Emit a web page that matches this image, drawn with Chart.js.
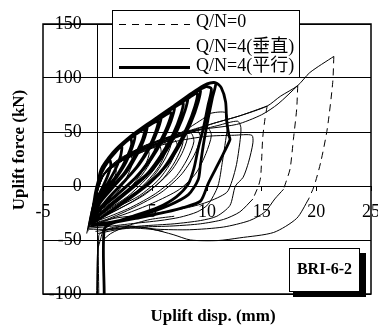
<!DOCTYPE html>
<html><head><meta charset="utf-8">
<script src="https://cdn.jsdelivr.net/npm/chart.js@4"></script>
<style>html,body{margin:0;padding:0;background:#fff;}canvas{display:block;}</style>
</head><body>
<canvas id="c" width="378" height="329"></canvas>
<script>
// ---- data ----
const xTicks = [-5, 0, 5, 10, 15, 20, 25];
const yTicks = [-100, -50, 0, 50, 100, 150];
const legendLabels = ['Q/N=0', 'Q/N=4(垂直)', 'Q/N=4(平行)'];
const specimenLabel = 'BRI-6-2';
const xTitle = 'Uplift disp. (mm)';
const yTitle = 'Uplift force (kN)';

// Q/N=0 : dashed unloading branches
const qn0Loops = [
  [[15.5,74],[15.3,62],[15.1,45],[15,25],[14.9,8],[14.7,0],[14.2,-12]],
  [[18.3,93],[18.2,71],[17.9,43],[17.6,16],[17.2,3],[17,-3]],
  [[21.6,120],[21.5,96],[21,53],[20.4,22],[19.8,0],[19.3,-12]]
];

// Q/N=4 (垂直) : thin loops
const qn4VerticalLoops = [
  [[-0.4,-20],[-0.2,-8],[0.2,5],[0.8,13],[1.5,18],[1.7,14],[1.4,4],[0.9,-6],[0.3,-14],[-0.4,-20]],
  [[-0.5,-25],[-0.2,-10],[0.3,6],[1.2,17],[2.2,24],[3,28],[3.2,22],[2.7,9],[2,-3],[1,-14],[0,-22],[-0.5,-25]],
  [[-0.5,-27],[-0.2,-10],[0.4,9],[1.8,24],[3.5,33],[5,38],[5.2,32],[4.7,20],[3.8,7],[2.5,-6],[0.9,-18],[-0.5,-27]],
  [[-0.6,-28],[-0.3,-12],[0.3,7],[1.5,20],[3,29],[4.5,35],[4.7,29],[4.1,14],[3.2,1],[2,-11],[0.7,-21],[-0.6,-28]],
  [[-0.6,-29],[-0.3,-11],[0.4,8],[2,22],[4,31],[5.6,38],[5.8,31],[5.2,16],[4.1,3],[2.7,-10],[1,-21],[-0.6,-29]],
  [[-0.6,-30],[-0.3,-12],[0.4,8],[2,23],[4,33],[6,41],[6.3,34],[5.6,18],[4.5,4],[3,-10],[1.2,-22],[-0.6,-30]],
  [[-0.6,-31],[-0.3,-12],[0.5,10],[2.3,26],[4.5,37],[6.5,45],[6.7,38],[6.1,24],[5.1,9],[3.6,-5],[1.5,-19],[-0.6,-31]],
  [[-0.7,-32],[-0.3,-13],[0.5,9],[2.5,25],[5,35],[7,43],[7.3,36],[6.6,20],[5.5,5],[3.8,-9],[1.7,-20],[0,-29],[-0.7,-32]],
  [[-0.7,-33],[-0.3,-14],[0.4,8],[2.5,26],[5,37],[7.5,47],[7.8,40],[7.1,23],[6,7],[4.3,-8],[2,-21],[0.2,-30],[-0.7,-33]],
  [[-0.7,-34],[-0.3,-13],[0.6,12],[3,30],[6,43],[8,50],[8.2,44],[7.7,30],[6.8,15],[5.4,1],[3.4,-13],[1.2,-25],[-0.7,-34]],
  [[-0.7,-34],[-0.3,-13],[0.5,10],[3,28],[6,40],[8.5,49],[8.8,41],[8.2,25],[7.1,8],[5.3,-7],[3,-20],[0.6,-30],[-0.7,-34]],
  [[-0.7,-35],[-0.3,-14],[0.5,10],[3,29],[6,41],[9,52],[9.4,45],[8.8,28],[7.6,10],[5.8,-6],[3.3,-20],[0.8,-31],[-0.7,-35]],
  [[-0.8,-36],[-0.3,-14],[0.6,11],[3.5,31],[7,44],[10,54],[10.4,47],[9.9,30],[9,12],[7.5,-3],[5,-16],[2.5,-26],[0,-34],[-0.8,-36]],
  [[-0.8,-37],[-0.3,-14],[0.6,12],[3.5,32],[7,46],[9.6,62],[10.2,67],[11.7,68],[11.9,58],[11.7,42],[11.4,22],[11,0],[10.1,-17],[9.1,-24],[7.5,-29],[5.7,-32],[3,-35],[0.5,-38],[-0.8,-39]],
  [[-0.8,-38],[-0.3,-15],[0.7,12],[4,34],[8,48],[11,56],[12.8,60],[13.1,54],[13,40],[12.7,20],[12.3,5],[11.8,-6],[10,-15],[7.8,-21],[4.8,-26],[1.5,-30],[-0.8,-38]],
  [[-0.8,-38],[-0.3,-15],[0.7,12],[3.5,30],[7,41],[10,46],[12.5,47],[14.1,47],[14.2,40],[13.8,22],[13.3,8],[12.6,0],[12.1,-18],[10.9,-28],[9.4,-32],[7,-35],[4,-37],[1,-40],[-0.8,-40]],
  [[-0.9,-40],[-0.4,-16],[0.8,14],[4,35],[8,50],[10.6,58],[13,65],[15.5,74]],
  [[14.2,-12],[13,-24],[11.5,-31],[9.4,-35],[6.9,-37],[4,-38],[1.5,-40],[-0.2,-42]],
  [[-0.9,-42],[-0.4,-18],[0.8,14],[4,36],[8,50],[12.7,57],[15,66],[16.5,76],[18.3,93]],
  [[17,-3],[16.2,-12],[15.3,-24],[13.9,-32],[11.5,-38],[8.4,-40.5],[5.4,-40],[3.9,-38],[2,-38],[0.5,-42],[0.1,-46],[0.1,-101]],
  [[-1,-44],[-0.5,-20],[0.8,15],[4,36],[8,49],[10.6,58],[13,65],[15.5,74],[16.7,83],[18.3,93],[19.4,105],[21.6,120]],
  [[19.3,-12],[18.2,-30],[16.1,-43],[13,-48],[11,-50.5],[8.5,-50],[6.9,-45],[5,-40],[3,-37],[1.5,-38],[0.5,-42],[0.3,-48],[0,-60],[-0.1,-101]],
  [[0.5,-50],[1.2,-44],[2.7,-37],[4.8,-31],[7,-28]],
  [[0,-44],[1.5,-41],[3,-39],[4.8,-40],[6,-42]]
];

// Q/N=4 (平行) : thick loops
const qn4ParallelLoops = [
  [[-0.3,-14],[-0.1,-4],[0.2,8],[0.6,17],[1.1,24],[1.2,19],[0.9,9],[0.5,0],[0.1,-8],[-0.3,-14]],
  [[-0.4,-20],[-0.2,-6],[0.2,9],[0.8,21],[1.6,31],[2.2,37],[2.1,28],[1.6,15],[1.0,4],[0.3,-8],[-0.4,-20]],
  [[-0.5,-25],[-0.2,-7],[0.3,11],[1.0,24],[2.0,36],[3.0,44],[3.1,38],[2.6,25],[1.9,12],[1.0,0],[0.1,-13],[-0.5,-25]],
  [[-0.5,-24],[-0.2,-8],[0.2,10],[0.9,23],[1.8,34],[2.8,43],[3.4,47],[3.2,37],[2.6,22],[1.8,9],[0.8,-4],[0,-15],[-0.5,-24]],
  [[-0.5,-28],[-0.2,-8],[0.3,11],[1.1,26],[2.2,38],[3.4,48],[4.3,53],[4.1,43],[3.4,28],[2.5,13],[1.4,0],[0.2,-15],[-0.5,-28]],
  [[-0.5,-27],[-0.2,-9],[0.2,10],[1.0,25],[2.0,36],[3.2,47],[4.5,56],[4.3,45],[3.6,29],[2.7,14],[1.6,1],[0.4,-13],[-0.5,-27]],
  [[-0.5,-30],[-0.2,-9],[0.3,12],[1.2,27],[2.4,40],[3.8,50],[5.5,60],[5.3,50],[4.6,34],[3.6,18],[2.4,4],[1.0,-11],[-0.5,-30]],
  [[-0.5,-29],[-0.2,-10],[0.3,12],[1.1,26],[2.2,38],[3.5,49],[4.8,58],[5.8,64],[5.5,52],[4.8,36],[3.8,20],[2.6,6],[1.2,-9],[-0.5,-29]],
  [[-0.6,-32],[-0.2,-10],[0.3,13],[1.3,28],[2.6,41],[4.2,53],[5.8,63],[6.7,68],[6.4,56],[5.6,39],[4.6,22],[3.4,7],[1.8,-8],[0.2,-22],[-0.6,-32]],
  [[-0.5,-31],[-0.2,-10],[0.3,13],[1.2,28],[2.4,40],[3.8,51],[5.4,61],[7.0,73],[6.7,60],[5.9,42],[4.9,25],[3.7,10],[2.1,-5],[0.4,-20],[-0.5,-31]],
  [[-0.6,-34],[-0.2,-11],[0.3,13],[1.4,29],[2.8,43],[4.5,56],[6.3,68],[7.8,77],[7.6,66],[6.9,48],[5.9,30],[4.6,12],[3.0,-2],[1.2,-17],[-0.6,-34]],
  [[-0.6,-33],[-0.2,-11],[0.3,13],[1.3,29],[2.6,42],[4.2,54],[6.0,66],[8.2,82],[8.0,70],[7.3,52],[6.3,33],[5.0,15],[3.4,0],[1.6,-15],[-0.6,-33]],
  [[-0.6,-35],[-0.2,-11],[0.3,14],[1.4,30],[2.9,44],[4.7,58],[6.7,71],[8.4,82],[9.1,86],[8.9,74],[8.2,55],[7.2,35],[6.0,16],[4.5,1],[2.7,-12],[0.8,-26],[-0.6,-35]],
  [[-0.6,-35],[-0.2,-11],[0.3,14],[1.4,30],[2.8,44],[4.5,57],[6.5,70],[8.2,81],[9.4,91],[9.2,78],[8.5,58],[7.5,38],[6.3,19],[4.8,3],[3.0,-11],[1.0,-25],[-0.6,-35]],
  [[-0.6,-37],[-0.2,-12],[0.3,14],[1.5,31],[3.0,45],[4.9,59],[6.9,73],[8.7,85],[9.9,92],[10.4,90],[10.1,75],[9.7,55],[9.2,35],[8.8,16],[8.3,2],[7.2,-10],[5.5,-20],[3.2,-28],[1,-35],[-0.6,-37]],
  [[-0.6,-36],[-0.2,-12],[0.3,14],[1.4,31],[2.9,45],[4.7,58],[6.7,72],[8.5,85],[9.7,93],[10.3,95.5],[10.8,95.5],[10.5,82],[10.1,62],[9.7,40],[9.4,20],[9.2,6],[8.3,-8],[6.5,-18],[4,-27],[1.5,-33],[-0.6,-36]],
  [[-0.6,-38],[-0.2,-12],[0.3,15],[1.5,32],[3.0,46],[4.8,59],[6.8,73],[8.6,86],[9.9,94],[10.8,95.5],[11.3,91],[11.7,78],[11.8,60],[12.0,47],[12.1,43],[11.5,30],[10.8,16],[10.1,2],[9.4,-14],[7.8,-20],[6.3,-24],[4,-29],[1.5,-34],[0.6,-40],[0.6,-101]]
];

// ---- build library data ----
function toData(loops) {
  const out = [];
  loops.forEach((loop, i) => {
    if (i) out.push({x: null, y: null});
    loop.forEach(p => out.push({x: p[0], y: p[1]}));
  });
  return out;
}

const SERIF = "'Liberation Serif', 'Times New Roman', 'Noto Sans CJK TC', serif";

const decor = {
  id: 'decor',
  afterDatasetsDraw(chart) {
    const ctx = chart.ctx, a = chart.chartArea;
    ctx.save();
    ctx.strokeStyle = '#000';
    ctx.lineWidth = 1.5;
    ctx.strokeRect(a.left, a.top, a.right - a.left, a.bottom - a.top);

    // legend box
    const lg = {x: 112, y: 10, w: 187, h: 67};
    ctx.fillStyle = '#fff';
    ctx.fillRect(lg.x, lg.y, lg.w, lg.h);
    ctx.lineWidth = 1;
    ctx.strokeRect(lg.x + 0.5, lg.y + 0.5, lg.w, lg.h);
    const rows = [
      {y: 24, ty: 22, w: 1, dash: [7, 6]},
      {y: 48, ty: 47, w: 1, dash: []},
      {y: 67, ty: 66, w: 3, dash: []}
    ];
    ctx.font = '18px ' + SERIF;
    ctx.textBaseline = 'middle';
    ctx.textAlign = 'left';
    rows.forEach((r, i) => {
      ctx.beginPath();
      ctx.setLineDash(r.dash);
      ctx.lineWidth = r.w;
      ctx.moveTo(119, r.y + 0.5);
      ctx.lineTo(190, r.y + 0.5);
      ctx.stroke();
      ctx.setLineDash([]);
      ctx.fillStyle = '#000';
      ctx.fillText(legendLabels[i], 196, r.ty);
    });

    // specimen box with shadow
    ctx.fillStyle = '#000';
    ctx.fillRect(293, 253, 73, 44);
    ctx.fillStyle = '#fff';
    ctx.fillRect(289, 248, 71, 44);
    ctx.lineWidth = 1;
    ctx.strokeStyle = '#000';
    ctx.strokeRect(289.5, 248.5, 70, 43);
    ctx.fillStyle = '#000';
    ctx.font = 'bold 16px ' + SERIF;
    ctx.textAlign = 'center';
    ctx.fillText(specimenLabel, 324.5, 270);

    // axis titles
    ctx.font = 'bold 17px ' + SERIF;
    ctx.fillText(xTitle, 213, 317);
    ctx.translate(20, 150);
    ctx.rotate(-Math.PI / 2);
    ctx.fillText(yTitle, 0, 0);
    ctx.restore();
  }
};

new Chart(document.getElementById('c'), {
  type: 'scatter',
  data: {
    datasets: [
      {label: legendLabels[2], data: toData(qn4ParallelLoops), borderColor: '#000', borderWidth: 2.8, tension: 0.25},
      {label: legendLabels[1], data: toData(qn4VerticalLoops), borderColor: '#000', borderWidth: 1, tension: 0.25},
      {label: legendLabels[0], data: toData(qn0Loops), borderColor: '#000', borderWidth: 1, borderDash: [7, 5], tension: 0.25}
    ].map(d => Object.assign({showLine: true, pointRadius: 0, spanGaps: false, fill: false}, d))
  },
  options: {
    responsive: false,
    animation: false,
    events: [],
    layout: {padding: {left: 43, right: 7, top: 24, bottom: 35}},
    plugins: {legend: {display: false}, tooltip: {enabled: false}, title: {display: false}},
    scales: {
      x: {
        type: 'linear', min: -5, max: 25, position: {y: 0},
        afterBuildTicks: s => { s.ticks = xTicks.map(v => ({value: v})); },
        afterFit: s => { s.height = 0; s.paddingLeft = 0; s.paddingRight = 0; },
        grid: {
          color: c => (c.tick && c.tick.value === 0) ? '#000' : 'rgba(0,0,0,0)',
          lineWidth: 1, drawTicks: true, tickLength: 4, tickColor: '#000'
        },
        border: {display: true, color: '#000', width: 1},
        ticks: {padding: 11, color: '#000', autoSkip: false, maxRotation: 0,
                font: {family: SERIF, size: 18}}
      },
      y: {
        type: 'linear', min: -100, max: 150, position: {x: -1.45},
        afterBuildTicks: s => { s.ticks = yTicks.map(v => ({value: v})); },
        afterFit: s => { s.width = 0; s.paddingTop = 0; s.paddingBottom = 0; },
        grid: {color: '#000', lineWidth: 1, drawTicks: false},
        border: {display: false},
        ticks: {padding: 0, color: '#000', autoSkip: false,
                font: {family: SERIF, size: 18}}
      }
    }
  },
  plugins: [decor]
});
</script>
</body></html>
